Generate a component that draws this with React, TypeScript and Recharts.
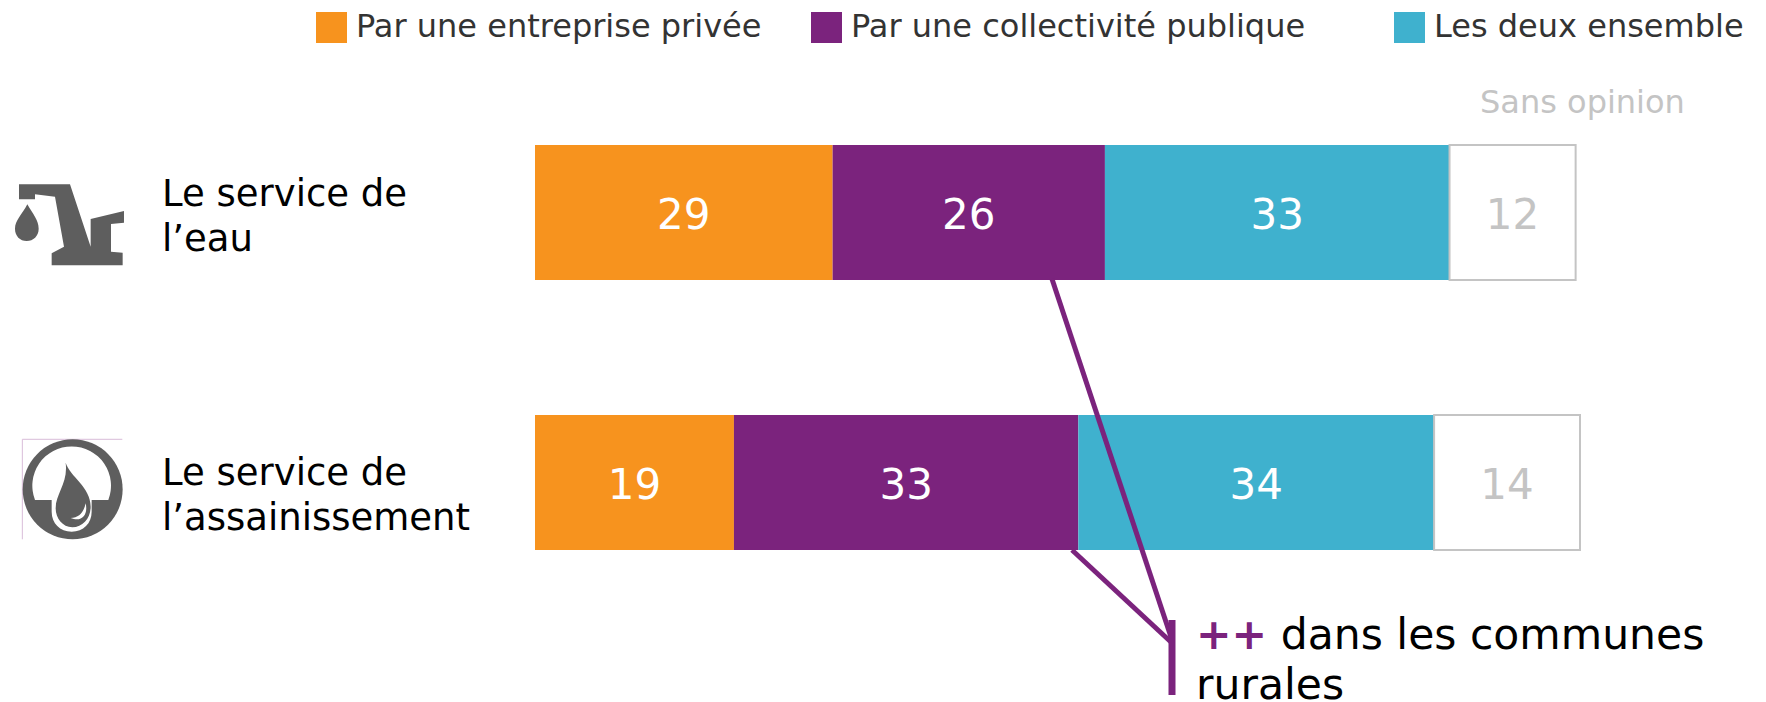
import React from "react";
import { BarChart, Bar, XAxis, YAxis, LabelList, Legend } from "recharts";

const categories = ["eau", "assainissement"];
const categoryLines = [["Le service de", "l’eau"], ["Le service de", "l’assainissement"]];
const categoryTextShift = [1, 10];
const privee = [28.56, 19.09];
const publique = [26.13, 33.05];
const ensemble = [33.07, 34.14];
const sansOpinion = [12.1, 14.0];
const seriesNames = ["Par une entreprise privée", "Par une collectivité publique", "Les deux ensemble"];

const ORANGE = "#F7931E";
const PURPLE = "#7B237D";
const TEAL = "#3FB1CE";
const GREY = "#C4C4C4";
const DARK = "#5E5E5E";
const FONT = "'DejaVu Sans', Verdana, sans-serif";

const data = categories.map((c, i) => ({
  name: c,
  privee: privee[i],
  publique: publique[i],
  ensemble: ensemble[i],
  sansOpinion: sansOpinion[i],
}));

const legendX = [316, 811, 1394];

const TapIcon = () => (
  <g transform="translate(0,150) scale(0.3333)" fill={DARK}>
    <path d="M57,103 L210,103 L272,290 L272,207 L372,183 L372,218 L333,222 L333,305 L368,308 L368,346 L155,346 L155,310 L192,290 L165,140 L105,133 L105,148 L57,148 Z" />
    <path d="M82,163 C100,195 116,210 116,236 C116,258 100,273 80,273 C60,273 45,258 45,236 C45,210 66,195 82,163 Z" />
  </g>
);

const SewerIcon = () => (
  <g transform="translate(0,150) scale(0.3333)">
    <path d="M67,1168 L67,868 L367,868" fill="none" stroke="#D9BCD9" strokeWidth={3} />
    <circle cx={218} cy={1018} r={150} fill={DARK} />
    <path d="M105,1050 A118,118 0 1 1 325,1050 L275,1050 L275,1085 C275,1120 250,1145 215,1145 C180,1145 155,1120 155,1085 L155,1050 Z" fill="#fff" />
    <path d="M197,938 C210,980 272,1010 272,1070 C272,1105 248,1132 217,1132 C188,1132 167,1105 167,1075 C167,1030 205,1000 197,938 Z" fill={DARK} />
    <path d="M212,1104 C238,1104 252,1085 257,1060 C265,1095 245,1118 212,1104 Z" fill="#fff" />
  </g>
);

const CategoryTick = (props: any) => {
  const idx = props.index as number;
  const lines = categoryLines[idx];
  const y = props.y + categoryTextShift[idx];
  return (
    <g>
      {idx === 0 ? <TapIcon /> : <SewerIcon />}
      <text fontFamily={FONT} fontSize={37} fill="#000">
        <tspan x={162} y={y - 7}>{lines[0]}</tspan>
        <tspan x={162} y={y + 38}>{lines[1]}</tspan>
      </text>
    </g>
  );
};

const LegendContent = () => (
  <div style={{ position: "relative", width: 1766, height: 0, fontFamily: FONT, fontSize: 32, color: "#333" }}>
    {seriesNames.map((n, i) => {
      const col = [ORANGE, PURPLE, TEAL][i];
      return (
        <div key={n} style={{ position: "absolute", left: legendX[i], top: 12, display: "flex", alignItems: "center", whiteSpace: "nowrap", height: 31 }}>
          <span style={{ display: "inline-block", width: 31, height: 31, background: col, marginRight: 9 }} />
          <span style={{ lineHeight: "31px", marginTop: -3 }}>{n}</span>
        </div>
      );
    })}
  </div>
);

const round = (v: any) => Math.round(Number(v));
const BarLabel = (props: any) => {
  const { x, y, width, height, value, fill } = props;
  return (
    <text x={x + width / 2} y={y + height / 2 + 16} textAnchor="middle" fontFamily={FONT} fontSize={42} fill={fill}>
      {round(value)}
    </text>
  );
};

export default function App() {
  return (
    <div style={{ position: "absolute", left: 0, top: 0, width: 1766, height: 702, overflow: "hidden", background: "#fff" }}>
      <BarChart
        width={1766}
        height={702}
        data={data}
        layout="vertical"
        barSize={135}
        margin={{ top: 77, right: 186, bottom: 85, left: 0 }}
      >
        <XAxis type="number" domain={[0, 100]} hide />
        <YAxis type="category" dataKey="name" width={535} axisLine={false} tickLine={false} tick={CategoryTick} interval={0} />
        <Legend content={LegendContent} verticalAlign="top" wrapperStyle={{ left: 0, top: 0, width: 1766, height: 0 }} />
        <Bar dataKey="privee" stackId="a" fill={ORANGE} isAnimationActive={false} name={seriesNames[0]}>
          <LabelList dataKey="privee" content={(p: any) => <BarLabel {...p} fill="#fff" />} />
        </Bar>
        <Bar dataKey="publique" stackId="a" fill={PURPLE} isAnimationActive={false} name={seriesNames[1]}>
          <LabelList dataKey="publique" content={(p: any) => <BarLabel {...p} fill="#fff" />} />
        </Bar>
        <Bar dataKey="ensemble" stackId="a" fill={TEAL} isAnimationActive={false} name={seriesNames[2]}>
          <LabelList dataKey="ensemble" content={(p: any) => <BarLabel {...p} fill="#fff" />} />
        </Bar>
        <Bar dataKey="sansOpinion" stackId="a" fill="#fff" stroke={GREY} strokeWidth={2} isAnimationActive={false} name="Sans opinion" legendType="none">
          <LabelList dataKey="sansOpinion" content={(p: any) => <BarLabel {...p} fill={GREY} />} />
        </Bar>
      </BarChart>
      <svg width={1766} height={702} style={{ position: "absolute", left: 0, top: 0, pointerEvents: "none" }}>
        <text x={1480} y={113} fontFamily={FONT} fontSize={32} fill={GREY}>Sans opinion</text>
        <path d="M1052,279 L1172,640" stroke={PURPLE} strokeWidth={5} fill="none" />
        <path d="M1072,550 L1172,643" stroke={PURPLE} strokeWidth={5} fill="none" />
        <path d="M1172,620 L1172,695" stroke={PURPLE} strokeWidth={7} fill="none" />
        <text fontFamily={FONT} fontSize={42.5} fill="#000">
          <tspan x={1196} y={649} fill={PURPLE} fontWeight="bold">++</tspan>
          <tspan> dans les communes</tspan>
          <tspan x={1196} y={699}>rurales</tspan>
        </text>
      </svg>
    </div>
  );
}
